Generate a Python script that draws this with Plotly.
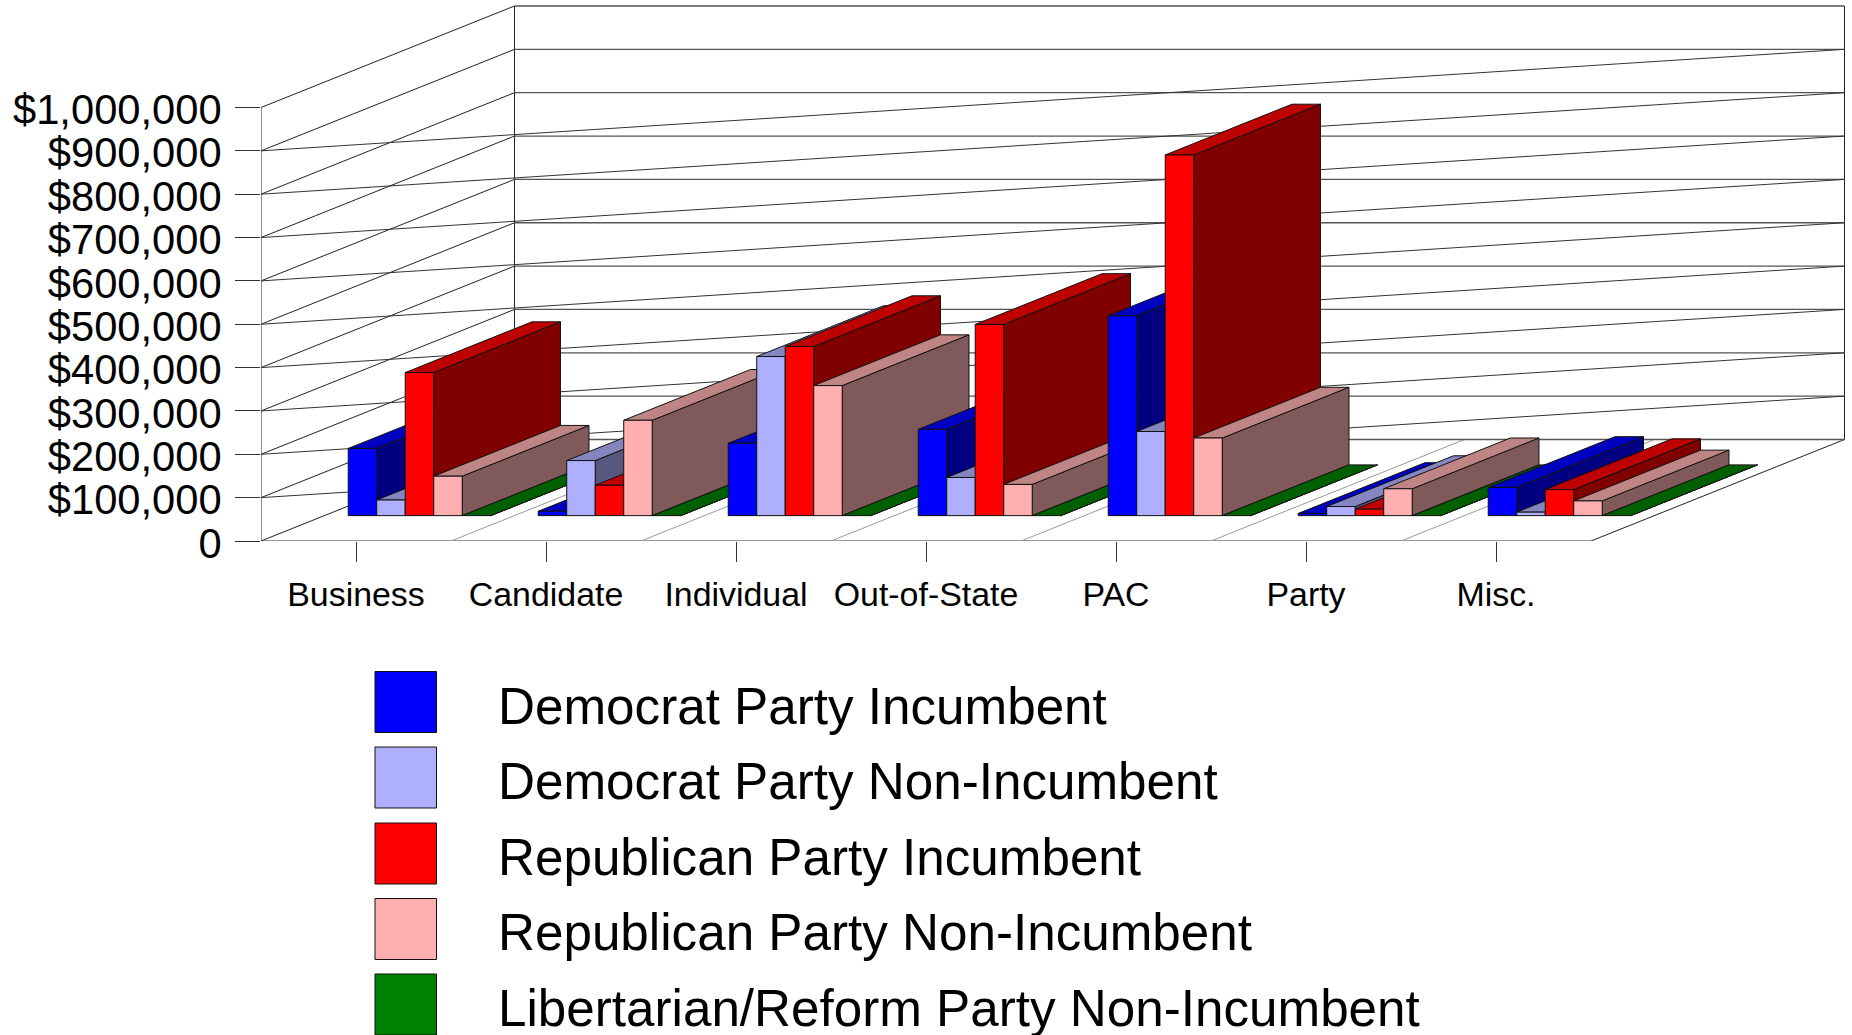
import plotly.graph_objects as go

categories = ["Business", "Candidate", "Individual", "Out-of-State", "PAC", "Party", "Misc."]
dem_incumbent = [155000, 10000, 167000, 199000, 461000, 5000, 65000]
dem_non_incumbent = [36000, 127000, 367000, 88000, 194000, 21000, 8000]
rep_incumbent = [330000, 70000, 390000, 441000, 832000, 15000, 60000]
rep_non_incumbent = [91000, 220000, 300000, 72000, 179000, 62000, 34000]
lib_non_incumbent = [0, 0, 0, 0, 0, 0, 0]
y_ticks = [0, 100000, 200000, 300000, 400000, 500000, 600000, 700000, 800000, 900000, 1000000]
y_tick_labels = ["0", "$100,000", "$200,000", "$300,000", "$400,000", "$500,000",
                 "$600,000", "$700,000", "$800,000", "$900,000", "$1,000,000"]

series = [
    ("Democrat Party Incumbent", dem_incumbent, "#0000FF", "#000080", "#0000C0"),
    ("Democrat Party Non-Incumbent", dem_non_incumbent, "#AFAFFF", "#58587F", "#8585BF"),
    ("Republican Party Incumbent", rep_incumbent, "#FF0000", "#800000", "#BF0000"),
    ("Republican Party Non-Incumbent", rep_non_incumbent, "#FFAFAF", "#805A5A", "#BF8585"),
    ("Libertarian/Reform Party Non-Incumbent", lib_non_incumbent, "#008000", "#004000", "#006000"),
]

W, H = 1852, 1035
LEFT, FLOOR = 261, 541          # pixel position of the front axis corner
CAT_PX = 190                    # pixels per category
PX_PER_DOLLAR = 0.4335 / 1000
DEPTH_X = 253.5 / CAT_PX        # oblique depth, in category units
DEPTH_Y = 101.5 / PX_PER_DOLLAR # oblique depth, in dollars
N = len(categories)
BAR_W = 0.15
BAR_PAD = 0.1255
D0, D1 = 0.25, 0.75             # bars occupy this part of the depth


def oblique(x, y, d):
    return x + d * DEPTH_X, y + d * DEPTH_Y


def line(xs, ys, color="#222222", width=1):
    return go.Scatter(x=xs, y=ys, mode="lines", line=dict(color=color, width=width),
                      hoverinfo="skip", showlegend=False, cliponaxis=False)


def face(points, color, name):
    xs = [p[0] for p in points] + [points[0][0]]
    ys = [p[1] for p in points] + [points[0][1]]
    return go.Scatter(x=xs, y=ys, mode="lines", fill="toself", fillcolor=color, name=name,
                      line=dict(color="#111111", width=1), hoverinfo="skip",
                      showlegend=False, cliponaxis=False)


fig = go.Figure()
top = y_ticks[-1]

# walls and floor
fig.add_trace(line([0, 0], [0, top]))
bx, by0 = oblique(0, 0, 1)
bxr, _ = oblique(N, 0, 1)
fig.add_trace(line([bx, bx], [by0, top + DEPTH_Y]))
fig.add_trace(line([bxr, bxr], [by0, top + DEPTH_Y]))
fig.add_trace(line([0, N], [0, 0], color="#777777", width=1.5))
fig.add_trace(line([N, bxr], [0, by0]))
for k in range(1, N):
    fig.add_trace(line([k, k + DEPTH_X], [0, DEPTH_Y], color="#999999"))
for v in y_ticks:
    fig.add_trace(line([0, bx], [v, v + DEPTH_Y]))
    fig.add_trace(line([bx, bxr], [v + DEPTH_Y, v + DEPTH_Y], color="#555555", width=1.3))
    if 0 < v < top:
        fig.add_trace(line([0, bxr], [v, v + DEPTH_Y], color="#333333"))

# bars, painted left to right so each one hides the previous side wall
for k in range(N):
    for i, (name, values, front, side, cap) in enumerate(series):
        v = values[k]
        xl = k + BAR_PAD + i * BAR_W
        xr = xl + BAR_W
        a = oblique(xl, 0, D0); b = oblique(xr, 0, D0)
        c = oblique(xr, v, D0); d = oblique(xl, v, D0)
        e = oblique(xr, 0, D1); f = oblique(xr, v, D1); g = oblique(xl, v, D1)
        fig.add_trace(face([b, e, f, c], side, name))
        fig.add_trace(face([d, c, f, g], cap, name))
        if v > 0:
            fig.add_trace(face([a, b, c, d], front, name))


def xp(px):
    return (px - LEFT) / (W - LEFT)


def yp(py):
    return (FLOOR - py) / FLOOR


# legend
swatch_top = [671.5, 747, 823, 898.5, 974]
swatch_h = 61
annotations, shapes = [], []
for (name, _, front, _, _), st in zip(series, swatch_top):
    shapes.append(dict(type="rect", xref="paper", yref="paper", x0=xp(375), x1=xp(436.5),
                       y0=yp(st), y1=yp(st + swatch_h), fillcolor=front,
                       line=dict(color="#111111", width=1)))
    annotations.append(dict(xref="paper", yref="paper", x=xp(496), y=yp(st + swatch_h / 2 + 4),
                            text=name, showarrow=False, xanchor="left", yanchor="middle",
                            font=dict(family="Liberation Sans", size=51.2, color="black")))

fig.update_layout(
    width=W, height=H, autosize=False,
    margin=dict(l=LEFT, r=0, t=0, b=H - FLOOR, pad=0),
    paper_bgcolor="white", plot_bgcolor="white", showlegend=False,
    font=dict(family="Liberation Sans", color="black"),
    xaxis=dict(range=[0, (W - LEFT) / CAT_PX], tickmode="array",
               tickvals=[k + 0.5 for k in range(N)], ticktext=categories,
               ticks="outside", ticklen=20, tickwidth=1, tickcolor="#333333",
               tickfont=dict(size=33.9, family="Liberation Sans", color="black"),
               ticklabelstandoff=3, tickangle=0,
               showgrid=False, zeroline=False, showline=False, fixedrange=True),
    yaxis=dict(range=[0, FLOOR / PX_PER_DOLLAR], tickmode="array",
               tickvals=y_ticks, ticktext=y_tick_labels,
               ticks="outside", ticklen=25, tickwidth=1, tickcolor="#333333",
               tickfont=dict(size=41.7, family="Liberation Sans", color="black"),
               ticklabelstandoff=5, ticklabelshift=2,
               showgrid=False, zeroline=False, showline=False, fixedrange=True),
    shapes=shapes, annotations=annotations,
)

fig.write_html("out.html", config={"displayModeBar": False},
               post_script="document.body.style.margin='0';document.body.style.overflow='hidden';")
